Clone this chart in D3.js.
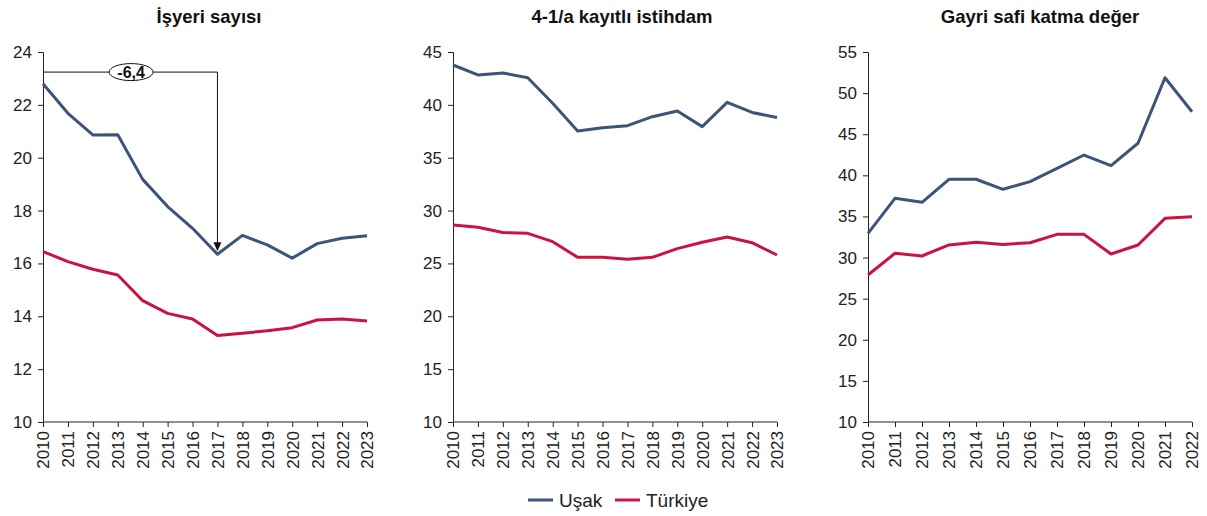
<!DOCTYPE html>
<html><head><meta charset="utf-8">
<script src="https://cdn.jsdelivr.net/npm/d3@7"></script>
<style>body{margin:0;background:#fff;}svg{display:block;font-family:"Liberation Sans",Arial,sans-serif;}</style>
</head><body>
<svg id="c" width="1207" height="516"></svg>
<script>
const years1 = [2010,2011,2012,2013,2014,2015,2016,2017,2018,2019,2020,2021,2022,2023];
const years3 = [2010,2011,2012,2013,2014,2015,2016,2017,2018,2019,2020,2021,2022];

const isyeriUsak = [22.8,21.68,20.86,20.87,19.18,18.15,17.33,16.35,17.06,16.7,16.2,16.75,16.95,17.05];
const isyeriTurkiye = [16.45,16.07,15.78,15.56,14.59,14.11,13.9,13.27,13.36,13.45,13.57,13.86,13.9,13.82];

const istihdamUsak = [43.77,42.83,43.02,42.57,40.15,37.53,37.84,38.03,38.88,39.42,37.94,40.24,39.28,38.8];
const istihdamTurkiye = [28.64,28.42,27.92,27.85,27.06,25.58,25.58,25.4,25.58,26.4,27.0,27.5,26.96,25.8];

const gskdUsak = [32.95,37.2,36.72,39.52,39.52,38.3,39.23,40.85,42.47,41.17,43.9,51.87,47.74];
const gskdTurkiye = [27.88,30.52,30.19,31.53,31.85,31.6,31.8,32.82,32.82,30.43,31.53,34.77,34.97];

const titles = ["İşyeri sayısı","4-1/a kayıtlı istihdam","Gayri safi katma değer"];
const yTicks1 = [10,12,14,16,18,20,22,24];
const yTicks2 = [10,15,20,25,30,35,40,45];
const yTicks3 = [10,15,20,25,30,35,40,45,50,55];
const seriesNames = ["Uşak","Türkiye"];
const annotLabel = "-6,4";
const annotLevel = 23.24;
const annotYearFrom = 2010, annotYearTo = 2017;

const colors = {"Uşak":"#3b5478","Türkiye":"#c8143f"};
const svg = d3.select("#c");
const FONT = "Liberation Sans, Arial, sans-serif";

const panels = [
  {title:titles[0], years:years1, u:isyeriUsak, t:isyeriTurkiye, ticks:yTicks1, x0:43, x1:367, tx:209},
  {title:titles[1], years:years1, u:istihdamUsak, t:istihdamTurkiye, ticks:yTicks2, x0:453, x1:777, tx:622},
  {title:titles[2], years:years3, u:gskdUsak, t:gskdTurkiye, ticks:yTicks3, x0:868, x1:1192, tx:1040}
];
const yTop = 52, yBot = 422;

panels.forEach((p,i)=>{
  const x = d3.scaleLinear().domain([p.years[0], p.years[p.years.length-1]]).range([p.x0,p.x1]);
  const y = d3.scaleLinear().domain([p.ticks[0], p.ticks[p.ticks.length-1]]).range([yBot,yTop]);
  const g = svg.append("g");

  g.append("text").attr("x",p.tx).attr("y",23).attr("text-anchor","middle")
    .attr("font-size",18.5).attr("font-weight","bold").attr("fill","#111").text(p.title);

  const ya = g.append("g").attr("transform",`translate(${p.x0},0)`)
    .call(d3.axisLeft(y).tickValues(p.ticks).tickSize(5).tickPadding(6).tickFormat(d3.format("d")));
  ya.selectAll("text").attr("font-size",17).attr("fill","#222").attr("font-family",FONT);
  ya.selectAll("line,path").attr("stroke","#222");

  const xa = g.append("g").attr("transform",`translate(0,${yBot})`)
    .call(d3.axisBottom(x).tickValues(p.years).tickSize(5).tickSizeOuter(0).tickFormat(d3.format("d")));
  xa.select("path").attr("d",`M${p.x0},0H${p.x1}`).attr("stroke","#222");
  xa.selectAll("line").attr("stroke","#222");
  xa.selectAll("text").attr("font-size",17).attr("fill","#222").attr("font-family",FONT)
    .attr("transform","rotate(-90)").attr("text-anchor","end").attr("x",-9).attr("y",0).attr("dy","0.35em");

  const line = d3.line().x((d,j)=>x(p.years[j])).y(d=>y(d));
  g.append("path").datum(p.u).attr("d",line).attr("fill","none").attr("stroke",colors["Uşak"]).attr("stroke-width",3).attr("stroke-linejoin","round");
  g.append("path").datum(p.t).attr("d",line).attr("fill","none").attr("stroke",colors["Türkiye"]).attr("stroke-width",3).attr("stroke-linejoin","round");

  if(i===0){
    const ay = y(annotLevel), ax0 = x(annotYearFrom), ax1 = x(annotYearTo);
    const tipY = y(p.u[p.years.indexOf(annotYearTo)]) - 3;
    g.append("path").attr("d",`M${ax0},${ay}H${ax1}V${tipY-8}`).attr("fill","none").attr("stroke","#111").attr("stroke-width",1);
    g.append("path").attr("d",`M${ax1-4},${tipY-9}L${ax1+4},${tipY-9}L${ax1},${tipY}Z`).attr("fill","#111");
    const cx = ax0 + (ax1-ax0)*0.505;
    g.append("ellipse").attr("cx",cx).attr("cy",ay).attr("rx",22).attr("ry",8.5).attr("fill","#fff").attr("stroke","#111").attr("stroke-width",1);
    g.append("text").attr("x",cx).attr("y",ay+5.5).attr("text-anchor","middle").attr("font-size",16).attr("font-weight","bold").attr("fill","#111").text(annotLabel);
  }
});

// legend
const lg = svg.append("g");
const legendItems = [{name:seriesNames[0], x:528},{name:seriesNames[1], x:615}];
legendItems.forEach(it=>{
  lg.append("line").attr("x1",it.x).attr("x2",it.x+25).attr("y1",500).attr("y2",500).attr("stroke",colors[it.name]).attr("stroke-width",3);
  lg.append("text").attr("x",it.x+31).attr("y",506.5).attr("font-size",19).attr("fill","#222").text(it.name);
});
</script>
</body></html>
